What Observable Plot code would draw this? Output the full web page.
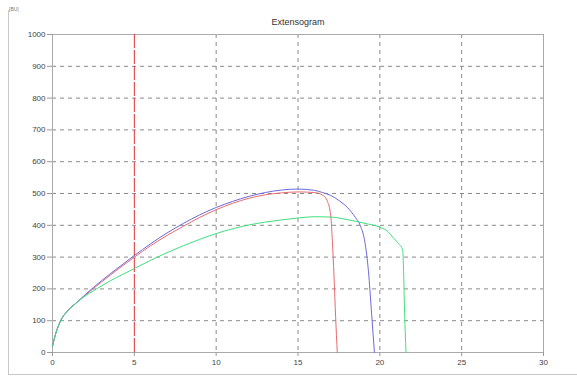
<!DOCTYPE html>
<html>
<head>
<meta charset="utf-8">
<script src="https://cdn.jsdelivr.net/npm/d3@7"></script>
<script src="https://cdn.jsdelivr.net/npm/@observablehq/plot@0.6"></script>
<style>
  html, body { margin: 0; padding: 0; background: #fff; }
  #wrap { position: relative; width: 577px; height: 378px; overflow: hidden; }
  #border { position: absolute; left: 8px; top: 10px; width: 575px; height: 364px;
            border-left: 1px solid #c8c8c8; border-bottom: 1px solid #c8c8c8; }
  #unit { position: absolute; left: 9px; top: 6px; font: 5px "Liberation Sans", Arial, sans-serif; color: #777; }
</style>
</head>
<body>
<div id="wrap"><div id="border"></div><div id="unit">[BU]</div></div>
<script>
const title = "Extensogram";
const xTicks = [0, 5, 10, 15, 20, 25, 30];
const yTicks = [0, 100, 200, 300, 400, 500, 600, 700, 800, 900, 1000];
const markerX = 5;

const redX = [0, 0.2, 0.5, 1, 1.5, 2, 3, 4, 5, 6, 7, 8, 9, 10, 11, 12, 13, 14, 15, 16, 16.5, 16.8, 17.0, 17.1, 17.2, 17.3, 17.4];
const redY = [20, 60, 100, 135, 158, 180, 222, 262, 300, 336, 368, 397, 425, 449, 469, 485, 496, 502, 505, 503, 495, 475, 430, 350, 240, 110, 0];

const blueX = [0, 0.2, 0.5, 1, 1.5, 2, 3, 4, 5, 6, 7, 8, 9, 10, 11, 12, 13, 14, 15, 16, 16.5, 17, 17.5, 18, 18.5, 18.8, 19.1, 19.3, 19.5, 19.67];
const blueY = [20, 60, 100, 135, 158, 182, 226, 266, 305, 342, 376, 406, 433, 456, 475, 491, 503, 511, 514, 510, 503, 494, 478, 457, 425, 400, 343, 258, 120, 0];

const greenX = [0, 0.2, 0.5, 1, 1.5, 2, 2.5, 3, 4, 5, 6, 7, 8, 9, 10, 11, 12, 13, 14, 15, 16, 17, 18, 19, 20, 20.5, 20.8, 21.1, 21.4, 21.45, 21.5, 21.6];
const greenY = [20, 60, 100, 135, 158, 178, 194, 210, 238, 264, 290, 314, 336, 356, 374, 389, 401, 410, 417, 423, 427, 426, 418, 407, 394, 380, 362, 345, 321, 258, 150, 0];

const series = [
  {name: "red", xs: redX, ys: redY, color: "#e86a6e"},
  {name: "blue", xs: blueX, ys: blueY, color: "#6a6ae0"},
  {name: "green", xs: greenX, ys: greenY, color: "#3ee07e"}
];
const data = series.flatMap(s => s.xs.map((x, i) => ({x, y: s.ys[i], s: s.name})));
const colorMap = Object.fromEntries(series.map(s => [s.name, s.color]));

const font = "'Liberation Sans', Arial, sans-serif";
const chart = Plot.plot({
  width: 577,
  height: 378,
  marginLeft: 52,
  marginRight: 34,
  marginTop: 34,
  marginBottom: 26,
  style: {fontFamily: font, fontSize: "8px", color: "#444", background: "transparent"},
  x: {domain: [0, 30], label: null},
  y: {domain: [0, 1000], label: null},
  marks: [
    Plot.gridY(yTicks.filter(d => d > 0 && d < 1000), {stroke: "#8a8a8a", strokeOpacity: 1, strokeDasharray: "4,4"}),
    Plot.gridX(xTicks.filter(d => d > 0 && d < 30 && d !== markerX), {stroke: "#8a8a8a", strokeOpacity: 1, strokeDasharray: "4,4"}),
    Plot.frame({stroke: "#aaa"}),
    Plot.ruleX([markerX], {stroke: "#e03030", strokeDasharray: "14,2"}),
    Plot.axisY(yTicks, {tickSize: 5, tickPadding: 2, stroke: "#999", fill: "#444", tickFormat: d => String(d)}),
    Plot.axisX(xTicks, {tickSize: 4, tickPadding: 3, stroke: "#999", fill: "#444", tickFormat: d => String(d)}),
    Plot.line(data, {x: "x", y: "y", z: "s", stroke: d => colorMap[d.s], strokeWidth: 1, curve: "monotone-x"}),
    Plot.text([title], {frameAnchor: "top", dy: -16, fontSize: 9, fill: "#333"})
  ]
});
chart.style.position = "absolute";
chart.style.left = "0px";
chart.style.top = "0px";
document.getElementById("wrap").appendChild(chart);
</script>
</body>
</html>
